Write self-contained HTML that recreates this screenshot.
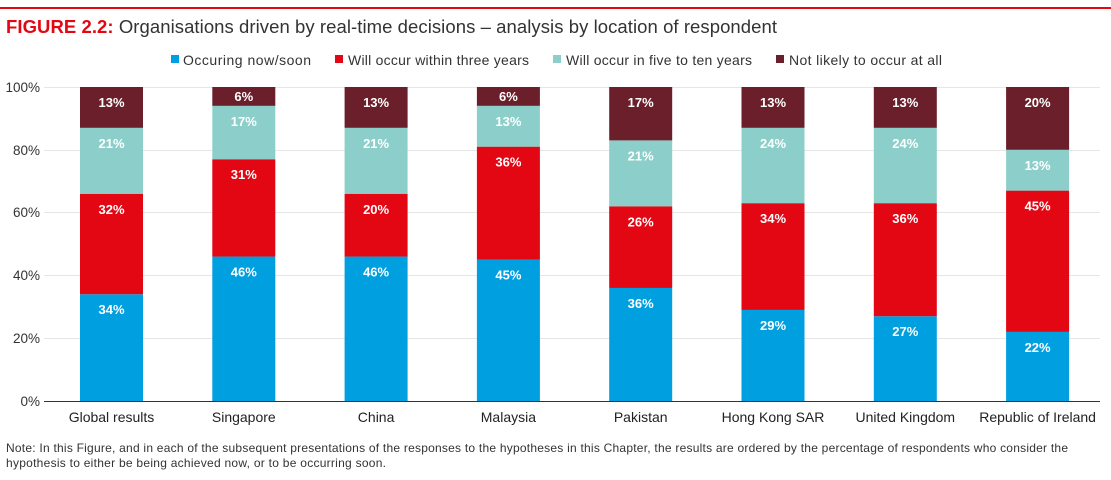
<!DOCTYPE html>
<html><head><meta charset="utf-8"><style>
body{margin:0;background:#fff;width:1111px;height:475px;overflow:hidden;font-family:"Liberation Sans",sans-serif}
</style></head><body>
<svg width="1111" height="475" xmlns="http://www.w3.org/2000/svg" font-family="Liberation Sans, sans-serif">
<rect x="0" y="7" width="1111" height="2" fill="#e30613"/>
<text x="6" y="33" font-size="18.5" fill="#333" textLength="771"><tspan fill="#e30613" font-weight="bold">FIGURE 2.2:</tspan> Organisations driven by real-time decisions – analysis by location of respondent</text>
<g font-size="14" fill="#333">
<rect x="171" y="55" width="8" height="8" fill="#009fdf"/><text x="183" y="65" textLength="128">Occuring now/soon</text>
<rect x="335" y="55" width="8" height="8" fill="#e30613"/><text x="348" y="65" textLength="181">Will occur within three years</text>
<rect x="553" y="55" width="8" height="8" fill="#8ccfca"/><text x="566" y="65" textLength="186">Will occur in five to ten years</text>
<rect x="776" y="55" width="8" height="8" fill="#6b1f2a"/><text x="789" y="65" textLength="153">Not likely to occur at all</text>
</g>
<g stroke="#e6e6e6" stroke-width="1">
<line x1="44" y1="87.5" x2="1100" y2="87.5"/><line x1="44" y1="150.5" x2="1100" y2="150.5"/>
<line x1="44" y1="212.5" x2="1100" y2="212.5"/><line x1="44" y1="275.5" x2="1100" y2="275.5"/>
<line x1="44" y1="338.5" x2="1100" y2="338.5"/>
</g>
<g font-size="13.5" fill="#333" text-anchor="end">
<text x="40" y="92">100%</text><text x="40" y="155">80%</text><text x="40" y="217">60%</text>
<text x="40" y="280">40%</text><text x="40" y="343">20%</text><text x="40" y="406">0%</text>
</g>
<g id="bars"></g>
<line x1="44" y1="401.5" x2="1100" y2="401.5" stroke="#333" stroke-width="1"/>
<g font-size="14" fill="#222" text-anchor="middle" id="xl"></g>
<text x="6" y="452" font-size="12" fill="#333" textLength="1062">Note: In this Figure, and in each of the subsequent presentations of the responses to the hypotheses in this Chapter, the results are ordered by the percentage of respondents who consider the</text>
<text x="6" y="467" font-size="12" fill="#333" textLength="380">hypothesis to either be being achieved now, or to be occurring soon.</text>
</svg>
<script>
var d=[["Global results",34,32,21,13],["Singapore",46,31,17,6],["China",46,20,21,13],["Malaysia",45,36,13,6],["Pakistan",36,26,21,17],["Hong Kong SAR",29,34,24,13],["United Kingdom",27,36,24,13],["Republic of Ireland",22,45,13,20]];
var c=["#009fdf","#e30613","#8ccfca","#6b1f2a"],ns="http://www.w3.org/2000/svg",g=document.getElementById("bars"),xl=document.getElementById("xl");
function el(t,a,p,txt){var e=document.createElementNS(ns,t);for(var k in a)e.setAttribute(k,a[k]);if(txt)e.textContent=txt;p.appendChild(e);}
d.forEach(function(r,i){var x=80+i*132.3,cum=0;
for(var j=0;j<4;j++){var v=r[j+1];var y0=401-cum*3.14;cum+=v;var y1=(j==3)?87:401-cum*3.14;
el("rect",{x:x,y:y1,width:63,height:y0-y1,fill:c[j]},g);
el("text",{x:x+31.5,y:y1+(v<8?14:20),"font-size":13,"font-weight":"bold",fill:"#fff","text-anchor":"middle"},g,v+"%");}
el("text",{x:x+31.5,y:422},xl,r[0]);});
</script>
</body></html>
